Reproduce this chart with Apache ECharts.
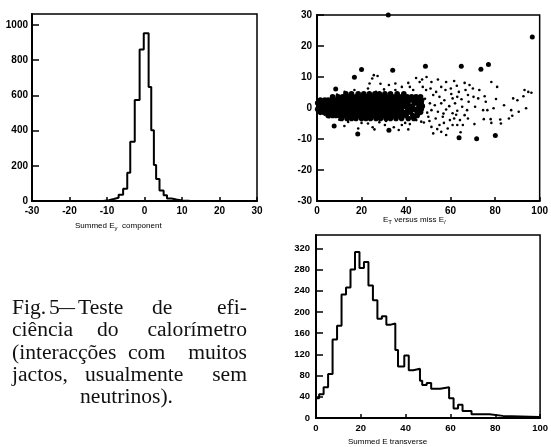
<!DOCTYPE html>
<html><head><meta charset="utf-8">
<script src="https://cdn.jsdelivr.net/npm/echarts@6/dist/echarts.min.js"></script>
<style>html,body{margin:0;padding:0;background:#fff}#c{width:551px;height:447px}</style>
</head><body><div id="c"></div>
<script>
// ---- Left histogram: Summed E_y component ----
const eyEdges = [-11,-9.5,-8.2,-6.9,-5.7,-4.6,-3.8,-2.6,-1.3,-0.2,1.1,1.8,2.5,3.1,4.0,5.1,6.0,7.2,8.5,10,12];
const eyCounts = [5,11,18,35,70,160,337,574,860,953,648,402,205,125,60,32,14,8,3,1];

// ---- Bottom histogram: Summed E transverse ----
const etEdges = [0,1.4,3.4,5.4,7.4,9.4,11.4,13.4,15.4,17.4,19.4,21.4,23.4,25.4,27.4,29.4,31.4,33.4,35.4,36.6,39.4,41.4,43.4,46.4,47.4,49.4,51.4,55.4,59.4,61.4,63.4,65.4,69.4,77.4,83.4,99.4];
const etCounts = [37,45,58,83,148,174,233,246,280,313,283,294,250,222,187,192,176,178,128,97,118,90,93,70,62,66,55,58,37,18,25,13,7,4,2];

// ---- Scatter: E_T versus miss E ----
// dense core, listed row by row (y value, then x values)
const blobRowY = [4.6, 3.6, 2.6, 1.6, 0.6, -0.4, -1.4, -2.4, -3.4];
const blobRowX = [
  [13,15.5,18.5,21,23.5,26,28,30.5,33,36,39],
  [7,9.5,11.5,13,14.5,16,17.5,19,20.5,22,23.5,25,26.5,28,29.5,31,32.5,34,35.5,37,38.5,40.5,42.5,44.5,46.5],
  [1.5,3.5,5,6.5,8,9.5,11,12.5,14,15.5,17,18.5,20,21.5,23,24.5,26,27.5,29,30.5,32,33.5,35,36.5,38,39.5,41,42.5,44,45.5,47],
  [0.3,1.8,3.3,4.8,6.3,7.8,9.3,10.8,12.3,13.8,15.3,16.8,18.3,19.8,21.3,22.8,24.3,25.8,27.3,28.8,30.3,31.8,33.3,34.8,36.3,37.8,39.3,40.8,43.8,45.3,46.8],
  [0.8,2.3,3.8,5.3,6.8,8.3,9.8,11.3,12.8,14.3,15.8,17.3,18.8,20.3,21.8,23.3,24.8,26.3,27.8,29.3,30.8,32.3,33.8,35.3,36.8,38.3,39.8,41.3,42.8,45.8,47.3],
  [0.3,1.8,3.3,4.8,6.3,7.8,9.3,10.8,12.3,13.8,15.3,16.8,18.3,19.8,21.3,22.8,24.3,25.8,27.3,28.8,30.3,31.8,33.3,34.8,36.3,37.8,40.8,42.3,43.8,45.3,46.8],
  [1.5,3,4.5,6,7.5,9,10.5,12,13.5,15,16.5,18,19.5,21,22.5,24,25.5,27,28.5,30,31.5,33,34.5,36,37.5,39,40.5,42,45,46.5],
  [5,7,8.5,10,11.5,13,14.5,16,17.5,19,20.5,22,23.5,25,26.5,28,29.5,31,32.5,34,35.5,37,38.5,40,43,45],
  [11,13.5,15.5,17.5,20,22,24,26.5,28.5,31,33,35.5,38,41,43.5]
];
const smallPts = [
  [12.3,-5.8],[18.5,-6.6],[25.8,-6.9],[25,-6.2],[34.5,-6.2],[38.1,-5.5],[39.6,-4.8],[41.7,-5.2],[44.6,-3.9],[46.8,-4.4],
  [41,-6.9],[36.7,-7.1],[22.9,-5],[25.5,10.6],[24.8,9.5],[27.2,10.3],[23.6,7.9],[22.9,6.3],[12.4,5.2],[16.8,5.8],
  [26.5,5.2],[32.3,7.4],[35.2,7.9],[38.1,6.8],[41,8.1],[41.7,6.8],[43.2,5.8],[46.1,8.4],[47.2,9.2],[47.5,6.8],
  [49,5.8],[35.2,5.8],[30.1,6],[14,-4.5],[20,-4.8],[28,-4.6],[30.5,-5.5],[43,-3.5],[3.5,-2.2],[5.5,-3],
  [10,-3.8],[2,2.8],[9,4.3],[28.5,7.8],[31,-4.2],
  [51.4,8.4],[54.3,9.2],[58,8.4],[61.6,8.7],[66.3,8.1],[51,6.3],[55.8,6.8],[57.7,5.8],[60.1,6.3],[63.7,5.2],
  [66.7,5.8],[67.8,4.2],[52.2,4.2],[55,3.6],[57.2,2.5],[60.9,3.1],[63,3.6],[64.9,2.8],[50.7,1.5],[52.9,0.9],
  [55.8,1.5],[59.4,0.6],[62,1.5],[51.4,-0.7],[54.3,-1.2],[58,-0.5],[60.9,-1.7],[63,-0.9],[50,-2.8],[53.3,-3.4],
  [56.5,-2.8],[59.7,-3.9],[61.6,-3.4],[51.4,-6.1],[55,-5.5],[58.7,-6.6],[60.9,-5.5],[52.2,-8.2],[55.8,-7.7],[58,-8.7],
  [48.5,3],[49.5,-1.5],[53.5,5.2],[56.8,-1.8],[60.3,4.5],[62.5,-2.2],[48,-4.7],[50.5,-4.2],[57,-4.8],[62.8,7.2],
  [64.5,-7.8],[54,-6.8],[49.2,10],[44.5,9.7],
  [93.2,5.8],[94.9,5.2],[96.3,4.9],[92.7,3.8],[88.1,3.1],[90,2.5],[84,0.9],[93.9,-0.1],[90.6,-1.2],[87.2,-0.7],
  [87.7,-2.5],[82.3,-3.7],[82.6,-5],[86.2,-3.4],[78.3,8.4],[80.9,6.8],[80.4,2.9],[79.3,-0.1],[76.5,-0.7],[74.6,-0.7],
  [75.8,2],[75.3,3.8],[78,-3.6],[78.3,-4.8],[74.9,-3.6],[70.7,-5.2],[70,6.3],[72.9,5.8],[68.5,7.4],[70.3,3.6],
  [72.4,3.1],[68.1,2],[71,0.4],[67.4,-0.7],[65.2,0.4],[66.3,-2.3],[67.8,-3.4],[64.2,-3.9],[65.5,-5.5],[63,-5.5]
];
const bigPts = [
  [8.4,6.1],[16.8,9.9],[20,12.4],[34,12.2],[48.7,13.5],[64.8,13.5],[73.6,12.5],[77,14],[96.7,22.9],
  [7.7,-5.8],[18.3,-8.4],[32.3,-7.2],[63.8,-9.6],[71.7,-9.9],[80.1,-8.9],[32,30]
];

// ---- Caption words: [text, x, y, align, scaleX] ----
const captionWords = [
  ['Fig.',12,309,'left',1.08],['5',49,309,'left',1.08],['\u2014',59,309,'left',0.8],['Teste',78,309,'left',1.08],['de',152,309,'left',1.08],['efi-',247,309,'right',1.08],
  ['ciência',12,331,'left',1.08],['do',97,331,'left',1.08],['calorímetro',247,331,'right',1.08],
  ['(interacções',12,353.5,'left',1.08],['com',128,353.5,'left',1.08],['muitos',247,353.5,'right',1.08],
  ['jactos,',12,376,'left',1.08],['usualmente',85,376,'left',1.08],['sem',247,376,'right',1.08],
  ['neutrinos).',126.5,398,'center',1.08]
];

function stepPath(edges, counts){
  const pts=[[edges[0],0]];
  for(let i=0;i<counts.length;i++){pts.push([edges[i],counts[i]]);pts.push([edges[i+1],counts[i]]);}
  pts.push([edges[edges.length-1],0]);
  return pts;
}
const blobPts=[];
blobRowY.forEach((y,i)=>blobRowX[i].forEach(x=>blobPts.push([x,y])));

const FONT='Liberation Sans';
function xAx(grid,min,max,interval,fs){
  return {type:'value',gridIndex:grid,min,max,interval,
    axisLine:{show:true,onZero:false,lineStyle:{color:'#000',width:2}},
    axisTick:{show:true,inside:true,length:4,lineStyle:{color:'#000',width:1.5}},
    axisLabel:{color:'#000',fontSize:fs,fontWeight:'bold',fontFamily:FONT,margin:5,formatter:v=>String(v)},
    splitLine:{show:false}};
}
function yAx(grid,min,max,interval,fs,margin){
  return {type:'value',gridIndex:grid,min,max,interval,
    axisLine:{show:true,onZero:false,lineStyle:{color:'#000',width:2}},
    axisTick:{show:true,inside:true,length:7,lineStyle:{color:'#000',width:1.5}},
    axisLabel:{color:'#000',fontSize:fs,fontWeight:'bold',fontFamily:FONT,margin:margin,showMaxLabel:max%interval===0,formatter:v=>String(v)},
    splitLine:{show:false}};
}

const graphics=[];
captionWords.forEach(w=>{
  graphics.push({type:'text',x:w[1],y:w[2],scaleX:w[4],
    style:{text:w[0],font:'20px "Liberation Serif"',fill:'#111',textAlign:w[3],textVerticalAlign:'middle'}});
});
const richLabel={n:{fontSize:8,fontFamily:FONT,color:'#111'},s:{fontSize:6,fontFamily:FONT,color:'#111',padding:[4,0,0,0]}};
graphics.push({type:'text',x:75,y:226,style:{text:'{n|Summed E}{s|y}{n|  component}',rich:richLabel,textVerticalAlign:'middle'}});
graphics.push({type:'text',x:383,y:220,style:{text:'{n|E}{s|T}{n| versus miss E}{s|/}',rich:richLabel,textVerticalAlign:'middle'}});
graphics.push({type:'text',x:348,y:442,style:{text:'{n|Summed E transverse}',rich:richLabel,textVerticalAlign:'middle'}});

const dot={color:'#000',opacity:1};
const chart=echarts.init(document.getElementById('c'),null,{renderer:'canvas'});
chart.setOption({
  animation:false,
  backgroundColor:'#fff',
  grid:[
    {left:32,top:14,width:225,height:187,show:true,borderColor:'#000',borderWidth:1.5},
    {left:317,top:15,width:230,height:186,show:true,borderColor:'#000',borderWidth:1.5},
    {left:316,top:235,width:230,height:183,show:true,borderColor:'#000',borderWidth:1.5}
  ],
  xAxis:[xAx(0,-30,30,10,10),xAx(1,0,100,20,10),xAx(2,0,100,20,9.5)],
  yAxis:[yAx(0,0,1062,200,10,4),yAx(1,-30,30,10,10,5),yAx(2,0,345,40,9.5,6)],
  series:[
    {type:'line',xAxisIndex:0,yAxisIndex:0,data:stepPath(eyEdges,eyCounts),symbol:'none',lineStyle:{color:'#000',width:2}},
    {type:'line',xAxisIndex:2,yAxisIndex:2,data:stepPath(etEdges,etCounts),symbol:'none',lineStyle:{color:'#000',width:2}},
    {type:'scatter',xAxisIndex:1,yAxisIndex:1,data:blobPts,symbolSize:5.6,itemStyle:dot},
    {type:'scatter',xAxisIndex:1,yAxisIndex:1,data:smallPts,symbolSize:2.6,itemStyle:dot},
    {type:'scatter',xAxisIndex:1,yAxisIndex:1,data:bigPts,symbolSize:5,itemStyle:dot}
  ],
  graphic:graphics
});
</script></body></html>
